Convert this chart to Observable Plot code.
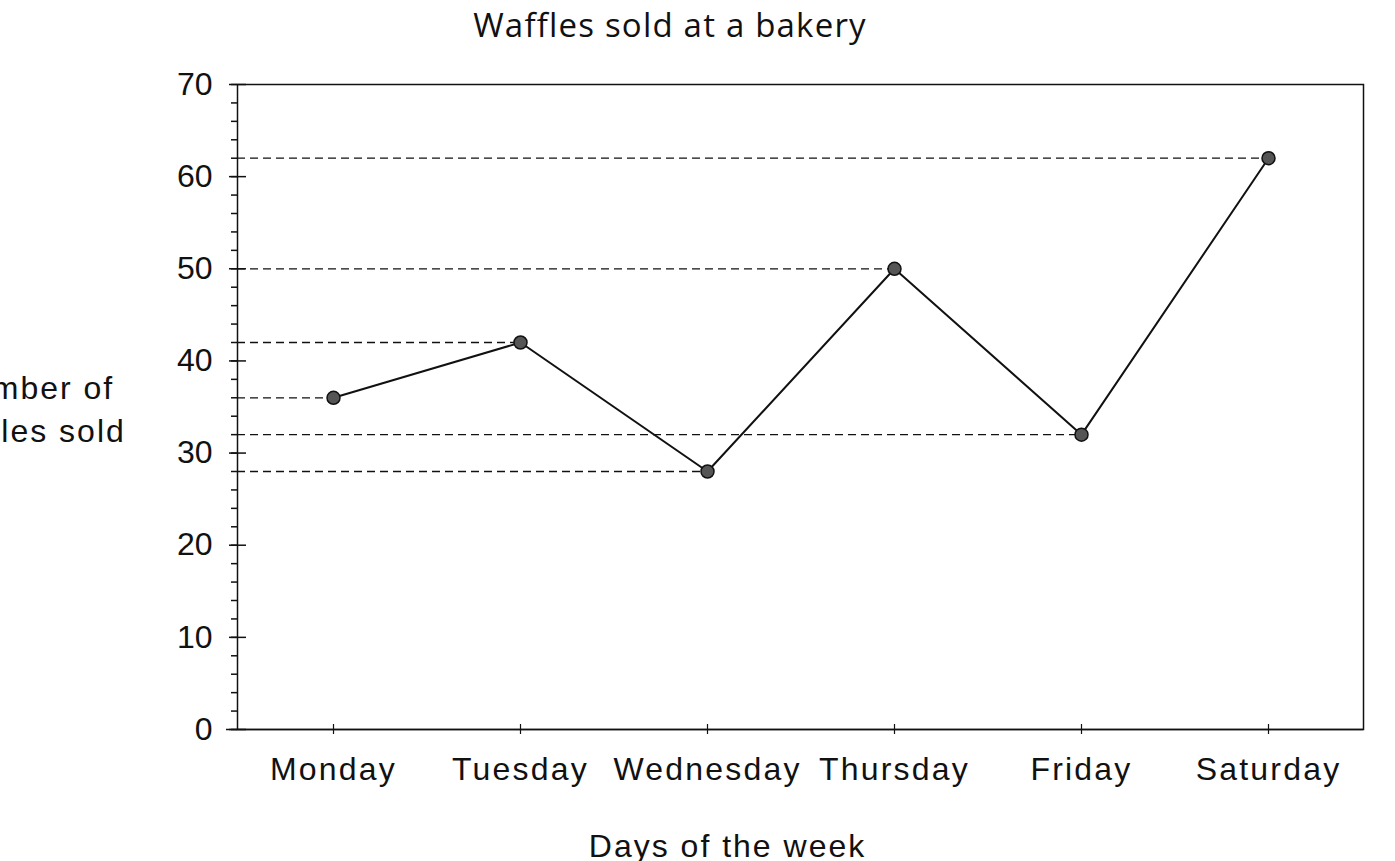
<!DOCTYPE html>
<html>
<head>
<meta charset="utf-8">
<script src="https://cdn.jsdelivr.net/npm/d3@7"></script>
<script src="https://cdn.jsdelivr.net/npm/@observablehq/plot@0.6"></script>
<style>
  html, body { margin: 0; padding: 0; background: #fff; }
  #title { width: 1340px; height: 55px; text-align: center; font-family: "Open Sans", sans-serif; font-size: 33px; letter-spacing: 1.2px; line-height: 50px; color: #111; white-space: nowrap; }
  g[aria-label="x-axis tick label"] text { letter-spacing: 2.2px; }
  g[aria-label="text"] text, g[aria-label="text"] tspan { letter-spacing: 2px; }
</style>
</head>
<body>
<div id="title">Waffles sold at a bakery</div>
<div id="chart"></div>
<script>
const days = ["Monday", "Tuesday", "Wednesday", "Thursday", "Friday", "Saturday"];
const waffles = [36, 42, 28, 50, 32, 62];
const yTicks = [0, 10, 20, 30, 40, 50, 60, 70];
const yMinorTicks = d3.range(0, 71, 2);

const data = days.map((d, i) => ({day: d, value: waffles[i]}));

const ink = "#111";
const chart = Plot.plot({
  width: 1395,
  height: 806,
  marginLeft: 237,
  marginRight: 32,
  marginTop: 29,
  marginBottom: 132,
  style: {fontFamily: "'Liberation Sans', Arial, sans-serif", fontSize: "32px", color: ink, background: "#fff", overflow: "visible"},
  x: {type: "point", domain: days, padding: 0.5, label: null},
  y: {domain: [0, 70], label: null},
  marks: [
    Plot.frame({stroke: ink, strokeWidth: 1.5}),
    Plot.ruleY([0], {insetLeft: -11, stroke: ink, strokeWidth: 1.5}),
    Plot.axisY(yTicks, {tickSize: 0, tickPadding: 25, fontSize: 32, fill: ink, label: null}),
    Plot.axisY(yTicks, {text: null, tickSize: 17, dx: 9, stroke: ink, strokeWidth: 1.5, label: null}),
    Plot.axisY(yMinorTicks, {text: null, tickSize: 6, stroke: ink, strokeWidth: 1.5, label: null}),
    Plot.axisX({tickSize: 0, tickPadding: 28, fontSize: 32, fill: ink, label: null}),
    Plot.axisX({text: null, tickSize: 10, dy: -5, stroke: ink, strokeWidth: 1.2, label: null}),
    Plot.ruleY(data, {y: "value", x1: null, x2: "day", stroke: ink, strokeWidth: 1.3, strokeDasharray: "8,5"}),
    Plot.line(data, {x: "day", y: "value", stroke: ink, strokeWidth: 2}),
    Plot.dot(data, {x: "day", y: "value", r: 6.5, fill: "#555", stroke: ink, strokeWidth: 1.5}),
    Plot.text(["Number of\nwaffles sold"], {frameAnchor: "left", dx: -207, textAnchor: "middle", fontSize: 32, lineHeight: 1.35, fill: ink}),
    Plot.text(["Days of the week"], {frameAnchor: "bottom", dx: -73, dy: 127, textAnchor: "middle", fontSize: 32, fill: ink})
  ]
});
document.getElementById("chart").appendChild(chart);
</script>
</body>
</html>
